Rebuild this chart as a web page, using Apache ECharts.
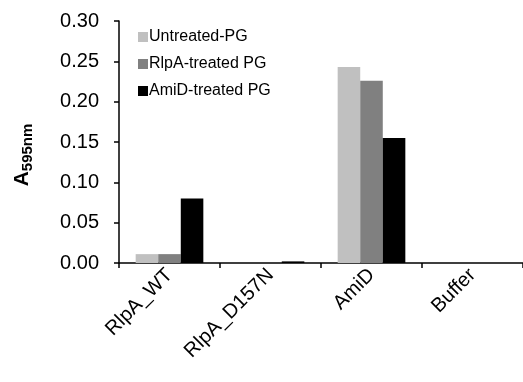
<!DOCTYPE html>
<html>
<head>
<meta charset="utf-8">
<script src="https://cdn.jsdelivr.net/npm/echarts@6/dist/echarts.min.js"></script>
<style>
  html, body { margin: 0; padding: 0; background: #fff; }
  #chart { width: 523px; height: 382px; }
</style>
</head>
<body>
<div id="chart"></div>
<script>
// categories and values
const categories = ['RlpA_WT', 'RlpA_D157N', 'AmiD', 'Buffer']
const untreated = [0.011, 0, 0.243, 0]
const rlpaTreated = [0.011, 0, 0.226, 0]
const amidTreated = [0.080, 0.002, 0.155, 0]
const seriesNames = ['Untreated-PG', 'RlpA-treated PG', 'AmiD-treated PG']
const seriesColors = ['#c0c0c0', '#808080', '#000000']

const chart = echarts.init(document.getElementById('chart'))

const font = 'Liberation Sans, Arial, sans-serif'

const option = {
  animation: false,
  backgroundColor: '#fff',
  textStyle: { fontFamily: font },
  grid: { left: 119, top: 21, width: 410, height: 242 },
  legend: {
    orient: 'vertical',
    left: 133,
    top: 24,
    itemWidth: 10,
    itemHeight: 10,
    itemGap: 11,
    icon: 'rect',
    textStyle: { fontSize: 16, color: '#000', fontFamily: font, padding: [0, 0, 0, -4] },
    data: seriesNames
  },
  xAxis: {
    type: 'category',
    data: categories,
    axisLine: { lineStyle: { color: '#000', width: 1.5 } },
    axisTick: { show: true, length: 5, inside: false, lineStyle: { color: '#000', width: 1.5 } },
    axisLabel: { rotate: 45, fontSize: 20, color: '#000', margin: 9, fontFamily: font }
  },
  yAxis: {
    type: 'value',
    min: 0,
    max: 0.3,
    interval: 0.05,
    name: '{a|A}{s|595nm}',
    nameLocation: 'middle',
    nameRotate: 90,
    nameGap: 84,
    nameTextStyle: {
      padding: [0, 26, 0, 0],
      rich: {
        a: { fontSize: 21, fontWeight: 'bold', color: '#000', fontFamily: font },
        s: { fontSize: 15, fontWeight: 'bold', color: '#000', fontFamily: font, padding: [10, 0, 0, 0] }
      }
    },
    axisLine: { show: true, lineStyle: { color: '#000', width: 1.5 } },
    axisTick: { show: true, length: 5, lineStyle: { color: '#000', width: 1.5 } },
    splitLine: { show: false },
    axisLabel: {
      fontSize: 20,
      color: '#000',
      margin: 20,
      fontFamily: font,
      formatter: (v) => v.toFixed(2)
    }
  },
  series: [untreated, rlpaTreated, amidTreated].map((d, i) => ({
    name: seriesNames[i],
    type: 'bar',
    data: d,
    barGap: '0%',
    barCategoryGap: '33%',
    itemStyle: { color: seriesColors[i] }
  }))
}

chart.setOption(option)
</script>
</body>
</html>
